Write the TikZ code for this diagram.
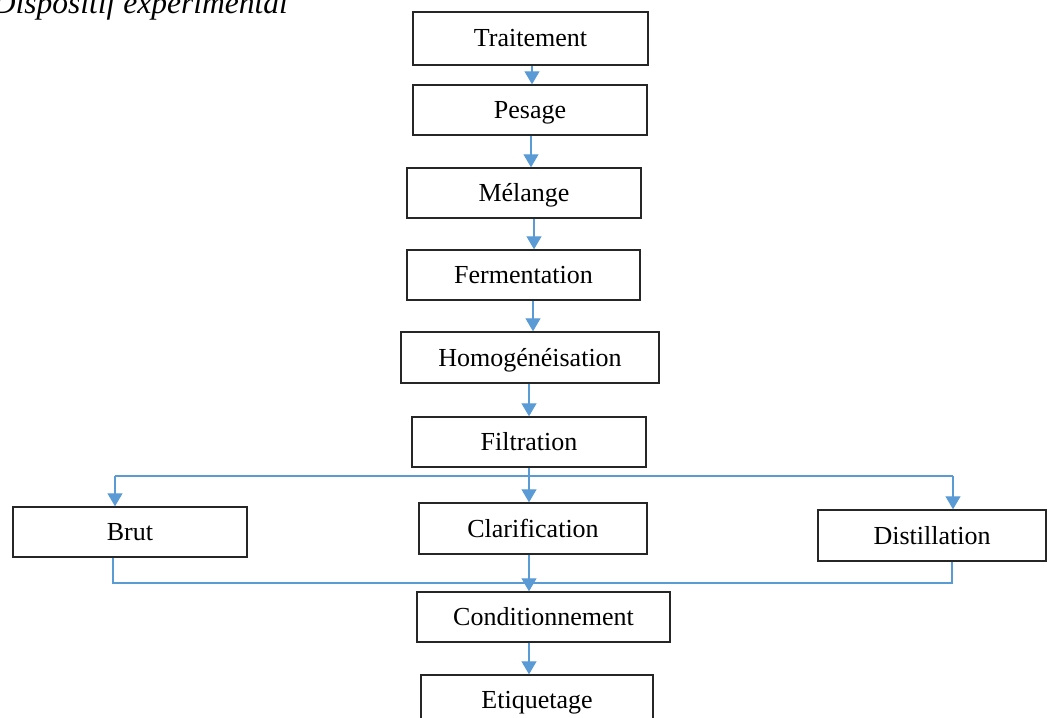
\documentclass[tikz,border=0pt]{standalone}
\usepackage{fontspec}
\setmainfont{Liberation Serif}
\usetikzlibrary{arrows.meta}
\definecolor{flowblue}{HTML}{5B9BD5}
\definecolor{boxline}{HTML}{262626}
\begin{document}
\begin{tikzpicture}[x=1pt,y=-1pt,
  stepbox/.style={draw=boxline,line width=1.4pt,fill=white,inner sep=0pt,
    text height=17pt,text depth=0pt,font=\fontsize{26}{30}\selectfont},
  conn/.style={draw=flowblue,line width=1.2pt},
  arr/.style={conn,-{Triangle[width=15pt,length=13pt]}},
  titletext/.style={font=\fontsize{31.5}{36}\selectfont\itshape,inner sep=0pt}]
\useasboundingbox (0,0) rectangle (1048,717);
\clip (0,0) rectangle (1048,717);

\node[titletext,anchor=base east] (title) at (288,14) {Dispositif expérimental};

\node[stepbox,minimum width=235pt,minimum height=53pt] (T)  at (530.5,38.5) {Traitement};
\node[stepbox,minimum width=234pt,minimum height=50pt] (P)  at (530,110) {Pesage};
\node[stepbox,minimum width=234pt,minimum height=50pt] (M)  at (524,193) {Mélange};
\node[stepbox,minimum width=233pt,minimum height=50pt] (F)  at (523.5,275) {Fermentation};
\node[stepbox,minimum width=258pt,minimum height=51pt] (H)  at (530,357.5) {Homogénéisation};
\node[stepbox,minimum width=234pt,minimum height=50pt] (Fi) at (529,442) {Filtration};
\node[stepbox,minimum width=234pt,minimum height=50pt] (B)  at (130,532) {Brut};
\node[stepbox,minimum width=228pt,minimum height=51pt] (C)  at (533,528.5) {Clarification};
\node[stepbox,minimum width=228pt,minimum height=51pt] (D)  at (932,535.5) {Distillation};
\node[stepbox,minimum width=253pt,minimum height=50pt] (Co) at (543.5,617) {Conditionnement};
\node[stepbox,minimum width=232pt,minimum height=50pt] (E)  at (537,700) {Etiquetage};

\draw[arr] (532,0 |- T.south) -- (532,0 |- P.north);
\draw[arr] (531,0 |- P.south) -- (531,0 |- M.north);
\draw[arr] (534,0 |- M.south) -- (534,0 |- F.north);
\draw[arr] (533,0 |- F.south) -- (533,0 |- H.north);
\draw[arr] (529,0 |- H.south) -- (529,0 |- Fi.north);

\coordinate (bl) at (115,476);
\coordinate (br) at (953,476);
\draw[conn] (bl) -- (br);
\draw[arr] (bl) -- (bl |- B.north);
\draw[arr] (br) -- (br |- D.north);
\draw[arr] (529,0 |- Fi.south) -- (529,0 |- C.north);

\coordinate (ml) at (113,583);
\coordinate (mr) at (952,583);
\draw[conn] (ml |- B.south) -- (ml) -- (mr) -- (mr |- D.south);
\draw[arr] (529,0 |- C.south) -- (529,0 |- Co.north);
\draw[arr] (529,0 |- Co.south) -- (529,0 |- E.north);
\end{tikzpicture}
\end{document}
